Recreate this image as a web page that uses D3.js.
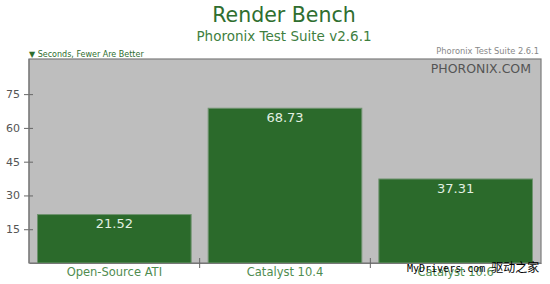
<!DOCTYPE html>
<html>
<head>
<meta charset="utf-8">
<script src="https://cdn.jsdelivr.net/npm/d3@7"></script>
<style>
	body { margin: 0; background: #fff; }
	svg { display: block; font-family: 'DejaVu Sans', sans-serif; }
</style>
</head>
<body>
<svg id="chart" width="550" height="284"></svg>
<script>
var categories = ['Open-Source ATI', 'Catalyst 10.4', 'Catalyst 10.6'];
var seconds = [21.52, 68.73, 37.31];
var yTicks = [15, 30, 45, 60, 75];
var yMax = 90.6;

var svg = d3.select('#chart'),
	plotLeft = 29, plotRight = 541, plotTop = 59, plotBottom = 263;

var scaleX = d3.scaleBand().domain(categories).range([plotLeft, plotRight]).paddingInner(0.1).paddingOuter(0.05);
var scaleY = d3.scaleLinear().domain([0, yMax]).range([plotBottom, plotTop]);

// titles
svg.append('text').attr('x', 284).attr('y', 21.7).attr('text-anchor', 'middle')
	.attr('font-size', 20.5).attr('fill', '#2f6e2f').text('Render Bench');
svg.append('text').attr('x', 284).attr('y', 40.5).attr('text-anchor', 'middle')
	.attr('font-size', 13.5).attr('fill', '#3f7f3f').text('Phoronix Test Suite v2.6.1');
svg.append('text').attr('x', 29).attr('y', 56.5).attr('font-size', 8)
	.attr('fill', '#2e6e2e').text('\u25BC Seconds, Fewer Are Better');
svg.append('text').attr('x', 539).attr('y', 53.5).attr('text-anchor', 'end')
	.attr('font-size', 8.3).attr('fill', '#888').text('Phoronix Test Suite 2.6.1');

// plot background
svg.append('rect').attr('x', plotLeft).attr('y', plotTop).attr('width', plotRight - plotLeft).attr('height', plotBottom - plotTop)
	.attr('fill', '#bebebe').attr('stroke', '#7c7c7c').attr('stroke-width', 1.2);
svg.append('text').attr('x', 531).attr('y', 73).attr('text-anchor', 'end')
	.attr('font-size', 12.5).attr('fill', '#555').text('PHORONIX.COM');

// bars
svg.selectAll('rect.bar').data(seconds).enter().append('rect').attr('class', 'bar')
	.attr('x', function(d, i) { return scaleX(categories[i]); })
	.attr('y', function(d) { return scaleY(d); })
	.attr('width', scaleX.bandwidth())
	.attr('height', function(d) { return plotBottom - scaleY(d); })
	.attr('fill', '#2b6a2b').attr('stroke', '#6f936f').attr('stroke-width', 1);

svg.selectAll('text.val').data(seconds).enter().append('text').attr('class', 'val')
	.attr('x', function(d, i) { return scaleX(categories[i]) + scaleX.bandwidth() / 2; })
	.attr('y', function(d) { return scaleY(d) + 13.7; })
	.attr('text-anchor', 'middle').attr('font-size', 13).attr('fill', '#e2f0e2')
	.text(function(d) { return d.toFixed(2); });

// y axis
var yAxis = d3.axisLeft(scaleY).tickValues(yTicks).tickSize(5).tickPadding(4);
var gy = svg.append('g').attr('transform', 'translate(' + plotLeft + ',0)').call(yAxis);
gy.select('.domain').remove();
gy.selectAll('.tick line').attr('x2', -5).attr('x1', 4).attr('stroke', '#666');
gy.selectAll('.tick text').attr('font-size', 11).attr('fill', '#555').attr('font-family', 'DejaVu Sans');
svg.append('line').attr('x1', plotLeft).attr('x2', plotLeft).attr('y1', plotTop).attr('y2', plotBottom).attr('stroke', '#777');

// x axis
var xAxis = d3.axisBottom(scaleX).tickSize(0).tickPadding(5);
var gx = svg.append('g').attr('transform', 'translate(0,' + plotBottom + ')').call(xAxis);
gx.select('.domain').attr('stroke', '#777');
gx.selectAll('.tick text').attr('font-size', 11.5).attr('fill', '#4f8c4f').attr('font-family', 'DejaVu Sans').attr('dy', '0.71em');
var sep = categories.slice(0, -1).map(function(c) { return scaleX(c) + scaleX.bandwidth() + scaleX.step() * scaleX.paddingInner() / 2; });
svg.selectAll('line.sep').data(sep).enter().append('line').attr('class', 'sep')
	.attr('x1', function(d) { return d; }).attr('x2', function(d) { return d; })
	.attr('y1', plotBottom - 5).attr('y2', plotBottom + 5).attr('stroke', '#666');

// watermark
var wm = svg.append('text').attr('x', 407).attr('y', 272).attr('fill', '#000');
wm.append('tspan').attr('font-family', 'DejaVu Sans Mono').attr('font-size', 10).text('MyDrivers.com ');
wm.append('tspan').attr('font-family', 'Noto Sans CJK SC').attr('font-size', 12).text('驱动之家');
</script>
</body>
</html>
